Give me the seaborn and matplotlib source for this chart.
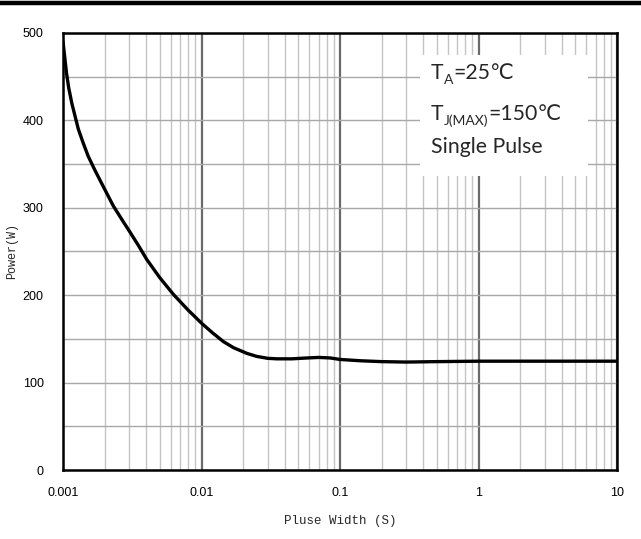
import matplotlib
matplotlib.use("Agg")
import matplotlib.pyplot as plt
import matplotlib.ticker as mticker
from matplotlib.patches import Rectangle
from matplotlib.lines import Line2D
import seaborn as sns

# Values
pulse_width = [0.001, 0.00106, 0.0011, 0.00116, 0.00129, 0.0014, 0.00152, 0.0017,
               0.0019, 0.00231, 0.0027, 0.00305, 0.0035, 0.00402, 0.005, 0.00626,
               0.008, 0.01, 0.012, 0.01436, 0.017, 0.0212, 0.025, 0.03, 0.035,
               0.045, 0.055, 0.07, 0.085, 0.1, 0.14, 0.2, 0.3, 0.5, 1, 3, 10]
power = [490, 454, 437, 419, 390, 374, 359, 343,
         328, 302, 285, 272, 257, 241, 220, 201,
         183, 168, 157, 147, 140, 133.5, 130, 127.8, 127.2,
         127.2, 128, 128.8, 128.2, 126.5, 125, 124, 123.5, 124, 124.5, 124.5, 124.5]

x_ticks = [0.001, 0.01, 0.1, 1, 10]
x_tick_labels = ["0.001", "0.01", "0.1", "1", "10"]
y_ticks = [0, 100, 200, 300, 400, 500]

sns.set_style("white")
plt.rcParams["font.family"] = ["Liberation Sans", "DejaVu Sans"]

fig = plt.figure(figsize=(6.41, 5.39), dpi=100)
ax = fig.add_axes([0.0983, 0.128, 0.8643, 0.8108])

sns.lineplot(x=pulse_width, y=power, color="black", lw=2.4, ax=ax, zorder=3)

ax.set_xscale("log")
ax.set_xlim(0.001, 10)
ax.set_ylim(0, 500)
ax.xaxis.set_major_locator(mticker.FixedLocator(x_ticks))
ax.xaxis.set_major_formatter(mticker.FixedFormatter(x_tick_labels))
ax.xaxis.set_minor_locator(mticker.LogLocator(base=10, subs=range(2, 10)))
ax.xaxis.set_minor_formatter(mticker.NullFormatter())
ax.yaxis.set_major_locator(mticker.FixedLocator(y_ticks))
ax.yaxis.set_minor_locator(mticker.MultipleLocator(50))

ax.set_axisbelow(True)
ax.grid(which="major", axis="x", color="#6a6a6a", lw=1.6)
ax.grid(which="minor", axis="x", color="#c4c4c4", lw=1.0)
ax.grid(which="both", axis="y", color="#a8a8a8", lw=1.0)

ax.tick_params(which="both", length=0, labelsize=9, colors="black")
ax.tick_params(axis="x", pad=12)
ax.tick_params(axis="y", pad=14)

for s in ax.spines.values():
    s.set_color("black")
    s.set_linewidth(1.8)

ax.set_xlabel("Pluse Width (S)", family="Liberation Mono", fontsize=9, labelpad=12)
ax.set_ylabel("Power(W)", family="Liberation Mono", fontsize=8.5, labelpad=3)

# white box behind the conditions text
ax.add_patch(Rectangle((0.644, 0.673), 0.304, 0.277, transform=ax.transAxes,
                       facecolor="white", edgecolor="none", zorder=1))
txt_font = ["Lato", "DejaVu Sans"]
big = 15.3
small = 10


def cond_line(y, main, sub, rest):
    t = ax.text(0.664, y, main, transform=ax.transAxes, family=txt_font,
                fontsize=big, va="baseline", zorder=4)
    s = ax.annotate(sub, xy=(1, y), xycoords=(t, "axes fraction"),
                    xytext=(0.3, -3.5), textcoords="offset points",
                    family=txt_font, fontsize=small, va="baseline", zorder=4)
    ax.annotate(rest, xy=(1, y), xycoords=(s, "axes fraction"),
                xytext=(0.3, 0), textcoords="offset points",
                family=txt_font, fontsize=big, va="baseline", zorder=4)


cond_line(0.895, "T", "A", "=25℃")
cond_line(0.800, "T", "J(MAX)", "=150℃")
ax.text(0.664, 0.725, "Single Pulse", transform=ax.transAxes,
        family=txt_font, fontsize=big, va="baseline", zorder=4)

fig.add_artist(Line2D([0, 1], [0.9944, 0.9944], color="black", lw=3.2,
                      transform=fig.transFigure))

fig.savefig("out.png", dpi=100)
